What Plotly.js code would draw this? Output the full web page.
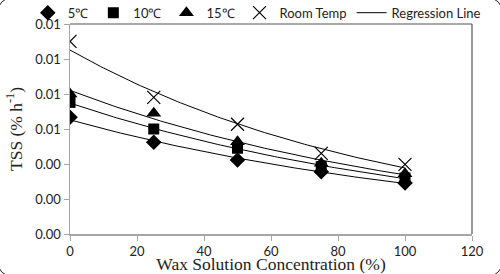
<!DOCTYPE html>
<html>
<head>
<meta charset="utf-8">
<script src="https://cdn.plot.ly/plotly-3.0.1.min.js"></script>
<style>
html,body{margin:0;padding:0;background:#fff;overflow:hidden;}
#wrap{position:relative;width:500px;height:274px;overflow:hidden;}
#chart{width:500px;height:274px;}
#frame{position:absolute;box-sizing:border-box;left:-2px;top:-2px;width:504px;height:278px;border:1.5px solid #222;border-radius:12px;pointer-events:none;}
</style>
</head>
<body>
<div id="wrap"><div id="chart"></div><div id="frame"></div></div>
<script>
// Data
const concentration = [0, 25, 50, 75, 100];
const seriesNames = ['5\u2103', '10\u2103', '15\u2103', 'Room Temp'];
const tss5 = [0.00667, 0.00524, 0.00423, 0.00356, 0.00292];
const tss10 = [0.00752, 0.00600, 0.00490, 0.00385, 0.00320];
const tss15 = [0.00800, 0.00690, 0.00527, 0.00404, 0.00345];
const tssRoom = [0.01101, 0.00781, 0.00627, 0.00461, 0.00398];
const xTicks = [0, 20, 40, 60, 80, 100, 120];
const yTicks = [0, 0.002, 0.004, 0.006, 0.008, 0.010, 0.012];

const allSeries = [tss5, tss10, tss15, tssRoom];
const symbols = ['diamond', 'square', 'triangle-up', 'x-thin-open'];
const sizes = [12, 11, 13, 13];

// Exponential least-squares fit (like a spreadsheet exponential trendline)
function expFit(xs, ys) {
  const n = xs.length;
  let sx = 0, sy = 0, sxx = 0, sxy = 0;
  for (let i = 0; i < n; i++) {
    const ly = Math.log(ys[i]);
    sx += xs[i]; sy += ly; sxx += xs[i] * xs[i]; sxy += xs[i] * ly;
  }
  const b = (n * sxy - sx * sy) / (n * sxx - sx * sx);
  const a = Math.exp((sy - b * sx) / n);
  return {a, b};
}

const traces = [];
const xMin = Math.min(...concentration), xMax = Math.max(...concentration);
allSeries.forEach((ys, i) => {
  const f = expFit(concentration, ys);
  const gx = [], gy = [];
  for (let x = xMin; x <= xMax; x += 1) { gx.push(x); gy.push(f.a * Math.exp(f.b * x)); }
  traces.push({
    x: gx, y: gy, mode: 'lines', type: 'scatter',
    line: {color: '#000', width: 1},
    name: 'Regression Line',
    showlegend: i === 0,
    legendrank: 1005,
    hoverinfo: 'skip'
  });
});
allSeries.forEach((ys, i) => {
  traces.push({
    x: concentration, y: ys, mode: 'markers', type: 'scatter',
    name: seriesNames[i],
    legendrank: 1000 + i,
    marker: {
      symbol: symbols[i], size: sizes[i], color: '#000',
      line: {color: '#000', width: i === 3 ? 1.2 : 0}
    }
  });
});

const tickFont = {family: 'Lato, "Open Sans", sans-serif', size: 13, color: '#222'};
const titleFont = {family: '"Liberation Serif", "Times New Roman", serif', size: 17.5, color: '#222'};
const layout = {
  width: 500, height: 274,
  margin: {l: 70, r: 28, t: 24, b: 40, pad: 0, autoexpand: false},
  paper_bgcolor: '#fff', plot_bgcolor: '#fff',
  showlegend: true,
  legend: {
    orientation: 'h', xref: 'paper', yref: 'paper',
    x: -0.105, xanchor: 'left', y: 1.125, yanchor: 'top',
    font: {family: 'Lato, "Open Sans", sans-serif', size: 13, color: '#222'},
    bgcolor: 'rgba(0,0,0,0)', itemwidth: 30, tracegroupgap: 0
  },
  xaxis: {
    range: [0, 120], tickvals: xTicks, ticktext: xTicks.map(String),
    showgrid: false, zeroline: false,
    showline: true, linecolor: '#a6a6a6', linewidth: 1.5,
    ticks: 'outside', ticklen: 5, tickcolor: '#a6a6a6', tickwidth: 1,
    tickfont: tickFont,
    title: {text: 'Wax Solution Concentration (%)', standoff: 0, font: titleFont}
  },
  yaxis: {
    range: [0, 0.012], tickvals: yTicks, ticktext: yTicks.map(v => v.toFixed(2)),
    showgrid: false, zeroline: false,
    showline: true, linecolor: '#a6a6a6', linewidth: 1.5,
    ticks: 'outside', ticklen: 5, tickcolor: '#a6a6a6', tickwidth: 1,
    tickfont: tickFont,
    title: {text: 'TSS (% h<sup>-1</sup>)', standoff: 8, font: titleFont}
  },
  shapes: [
    {type: 'line', xref: 'paper', yref: 'paper', x0: 0, x1: 1, y0: 1, y1: 1, line: {color: '#555', width: 1.2}},
    {type: 'line', xref: 'paper', yref: 'paper', x0: 1, x1: 1, y0: 0, y1: 1, line: {color: '#555', width: 1.2}}
  ]
};

Plotly.newPlot('chart', traces, layout, {displayModeBar: false, staticPlot: true});
</script>
</body>
</html>
